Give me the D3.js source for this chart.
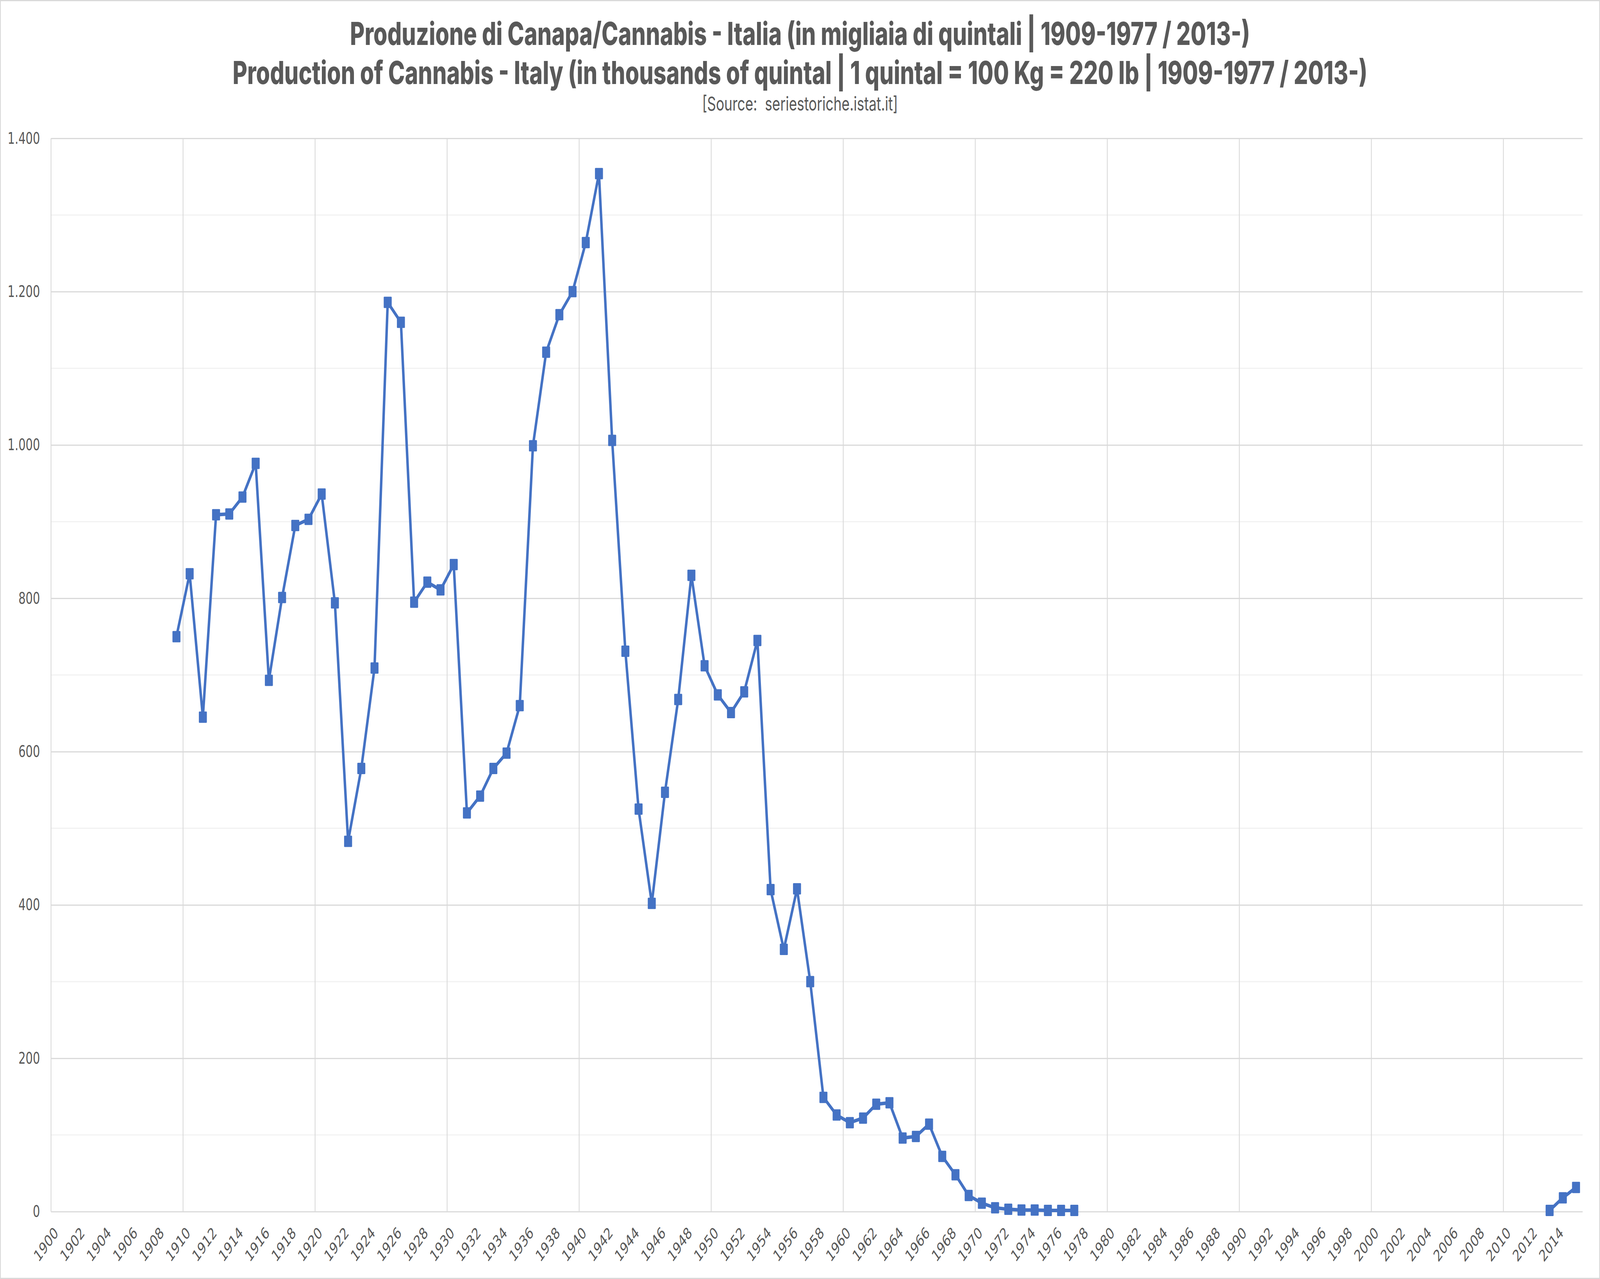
<!DOCTYPE html>
<html>
<head>
<meta charset="utf-8">
<script src="https://cdn.jsdelivr.net/npm/d3@7"></script>
<style>
  html, body { margin: 0; padding: 0; background: #fff; overflow: hidden; }
  svg { display: block; }
</style>
</head>
<body>
<div class="container"></div>
<script>
// categories (one per year, Excel-style category axis)
var years = d3.range(1900, 2016);
var xTickYears = years.filter(function (y) { return (y - 1900) % 2 === 0; });
var gridYears = years.filter(function (y) { return (y - 1900) % 10 === 0; });

var yMajorTicks = [0, 200, 400, 600, 800, 1000, 1200, 1400];
var yMinorTicks = [100, 300, 500, 700, 900, 1100, 1300];

// production, thousands of quintals
var prodYears1 = d3.range(1909, 1978);
var prodValues1 = [750, 832, 645, 909, 910, 932, 976, 693, 801, 895,
    903, 936, 794, 483, 578, 709, 1186, 1160, 795, 821,
    811, 844, 520, 542, 578, 598, 660, 999, 1121, 1170,
    1200, 1264, 1354, 1006, 731, 525, 402, 547, 668, 830,
    712, 674, 651, 678, 745, 420, 342, 421, 300, 149,
    126, 116, 122, 140, 142, 96, 98, 114, 72, 48,
    21, 11, 5, 3, 2, 2, 1.5, 1.5, 1.5];
var prodYears2 = [2013, 2014, 2015];
var prodValues2 = [1.5, 18, 31.5];

var titleLines = [
    'Produzione di Canapa/Cannabis - Italia (in migliaia di quintali | 1909-1977 / 2013-)',
    'Production of Cannabis - Italy (in thousands of quintal | 1 quintal = 100 Kg = 220 lb | 1909-1977 / 2013-)'
];
var sourceText = '[Source:  seriestoriche.istat.it]';

var drawChart = function () {
    // drawn in the reference's pixel space, stretched to whatever the window is
    var WIDTH = 5802;
    var HEIGHT = 3273;
    var LEFT = 185, RIGHT = 5739, TOP = 354, BOTTOM = 3100.5;
    var TITLE_FONT = 'Inter, Roboto, "Liberation Sans", sans-serif';
    var TICK_FONT = '"DejaVu Sans", sans-serif';
    var TEXT_COLOR = '#595959';
    var BLUE = '#4472C4';

    var byYear = {};
    prodYears1.forEach(function (y, i) { byYear[y] = prodValues1[i]; });
    prodYears2.forEach(function (y, i) { byYear[y] = prodValues2[i]; });
    var series = years.map(function (y) {
        return {year: y, value: byYear[y] === undefined ? null : byYear[y]};
    });

    var xScale = d3.scaleBand().domain(years).range([LEFT, RIGHT]);
    var yScale = d3.scaleLinear().domain([0, 1400]).range([BOTTOM, TOP]);
    var cx = function (y) { return xScale(y) + xScale.bandwidth() / 2; };

    var itFormat = d3.formatLocale({decimal: ',', thousands: '.', grouping: [3], currency: ['€', '']}).format(',d');

    var svg = d3.select('.container').append('svg')
        .attr('viewBox', '0 0 ' + WIDTH + ' ' + HEIGHT)
        .attr('preserveAspectRatio', 'none')
        .style('width', window.innerWidth + 'px')
        .style('height', window.innerHeight + 'px');

    svg.append('rect')
        .attr('x', 1.5).attr('y', 1.5)
        .attr('width', WIDTH - 3).attr('height', HEIGHT - 3)
        .attr('fill', '#fff')
        .attr('stroke', '#d9d9d9')
        .attr('stroke-width', 3);

    // gridlines
    svg.append('g').selectAll('line').data(yMinorTicks).enter().append('line')
        .attr('x1', LEFT).attr('x2', RIGHT)
        .attr('y1', function (d) { return yScale(d); })
        .attr('y2', function (d) { return yScale(d); })
        .attr('stroke', '#f2f2f2').attr('stroke-width', 3);

    svg.append('g').selectAll('line').data(gridYears).enter().append('line')
        .attr('x1', function (d) { return xScale(d); })
        .attr('x2', function (d) { return xScale(d); })
        .attr('y1', TOP).attr('y2', BOTTOM)
        .attr('stroke', '#d9d9d9').attr('stroke-width', 3);

    var yAxis = d3.axisLeft(yScale)
        .tickValues(yMajorTicks)
        .tickSize(-(RIGHT - LEFT))
        .tickPadding(40)
        .tickFormat(itFormat);

    var yg = svg.append('g')
        .attr('transform', 'translate(' + LEFT + ',0)')
        .call(yAxis);
    yg.select('.domain').remove();
    yg.selectAll('.tick line').attr('stroke', '#d9d9d9').attr('stroke-width', 3);
    yg.selectAll('.tick text')
        .attr('fill', TEXT_COLOR)
        .style('font-family', TICK_FONT)
        .style('font-size', '41px');

    // x labels, rotated 45 degrees, ending at the category centre
    var xAxis = d3.axisBottom(xScale)
        .tickValues(xTickYears)
        .tickSize(0)
        .tickPadding(0);
    var xg = svg.append('g')
        .attr('transform', 'translate(0,' + BOTTOM + ')')
        .call(xAxis);
    xg.select('.domain').remove();
    xg.selectAll('.tick text')
        .attr('fill', TEXT_COLOR)
        .style('font-family', TICK_FONT)
        .style('font-size', '41px')
        .attr('text-anchor', 'end')
        .attr('dy', 0)
        .attr('y', 0)
        .attr('transform', 'translate(5,57) rotate(-45)');

    // series
    var line = d3.line()
        .defined(function (d) { return d.value !== null; })
        .x(function (d) { return cx(d.year); })
        .y(function (d) { return yScale(d.value); });

    svg.append('path')
        .attr('d', line(series))
        .attr('fill', 'none')
        .attr('stroke', BLUE)
        .attr('stroke-width', 9)
        .attr('stroke-linejoin', 'round');

    var M = 29;
    svg.append('g').selectAll('rect')
        .data(series.filter(function (d) { return d.value !== null; }))
        .enter().append('rect')
        .attr('x', function (d) { return cx(d.year) - M / 2; })
        .attr('y', function (d) { return yScale(d.value) - M / 2; })
        .attr('width', M).attr('height', M)
        .attr('rx', 2)
        .attr('fill', BLUE);

    // titles, sized to the widths in the original
    var fitText = function (sel, target) {
        var size = parseFloat(sel.style('font-size'));
        var w = sel.node().getComputedTextLength();
        sel.style('font-size', (size * target / w) + 'px');
    };

    var t1 = svg.append('text')
        .attr('x', WIDTH / 2).attr('y', 115)
        .attr('text-anchor', 'middle')
        .attr('fill', TEXT_COLOR)
        .style('font-family', TITLE_FONT).style('font-weight', 800).style('font-size', '84px')
        .text(titleLines[0]);
    fitText(t1, 3263);

    var t2 = svg.append('text')
        .attr('x', WIDTH / 2).attr('y', 215)
        .attr('text-anchor', 'middle')
        .attr('fill', TEXT_COLOR)
        .style('font-family', TITLE_FONT).style('font-weight', 800).style('font-size', '84px')
        .text(titleLines[1]);
    fitText(t2, 4115);

    var s = svg.append('text')
        .attr('x', WIDTH / 2).attr('y', 283)
        .attr('text-anchor', 'middle')
        .attr('fill', TEXT_COLOR)
        .attr('xml:space', 'preserve')
        .style('white-space', 'pre')
        .style('font-family', TITLE_FONT).style('font-size', '44px')
        .text(sourceText);
    fitText(s, 710);
};

window.onload = drawChart;
</script>
</body>
</html>
